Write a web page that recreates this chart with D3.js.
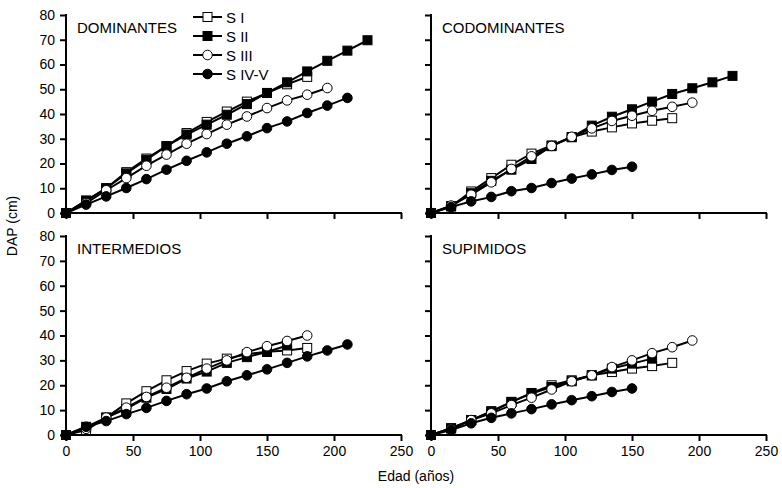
<!DOCTYPE html>
<html>
<head>
<meta charset="utf-8">
<script src="https://cdn.jsdelivr.net/npm/d3@7"></script>
<style>
  body { margin: 0; background: #fff; }
  svg { font-family: "Liberation Sans", Arial, sans-serif; }
</style>
</head>
<body>
<div id="chart"></div>
<script>
// edad (años) every 15 years
const ages = [0, 15, 30, 45, 60, 75, 90, 105, 120, 135, 150, 165, 180, 195, 210, 225];
const seriesNames = ['S I', 'S II', 'S III', 'S IV-V'];
const panelNames = ['DOMINANTES', 'CODOMINANTES', 'INTERMEDIOS', 'SUPIMIDOS'];
const xTicks = [0, 50, 100, 150, 200, 250];
const yTicks = [0, 10, 20, 30, 40, 50, 60, 70, 80];

// DAP (cm) per site class, values start at age 0
const dominantes = [
    [0, 5, 10, 16.5, 22, 27, 32.3, 36.8, 41, 45, 48.5, 52, 55],
    [0, 5, 10, 16, 21.5, 27, 31.7, 35.7, 39.7, 44, 48.5, 52.8, 57.2, 61.5, 65.6, 69.8],
    [0, 4, 9.2, 14.1, 19.1, 23.6, 28, 31.9, 35.7, 39, 42.4, 45.5, 47.8, 50.5],
    [0, 3.4, 6.7, 10.1, 13.7, 17.5, 21.1, 24.5, 28, 31, 34.3, 37, 40.4, 43.4, 46.5]
];
const codominantes = [
    [0, 2.7, 8.7, 14.1, 19.5, 24, 27.3, 30.6, 32.9, 34.6, 36.2, 37.3, 38.3],
    [0, 2.7, 8, 13, 17.5, 21.8, 27, 30.7, 35.3, 38.9, 41.9, 45, 48.1, 50.4, 52.8, 55.4],
    [0, 3, 7.4, 12.4, 17.8, 22.9, 27.1, 30.8, 34.2, 37.2, 39.3, 41.3, 42.9, 44.6],
    [0, 2.4, 4.7, 6.5, 8.8, 10.1, 12.1, 13.9, 15.6, 17.4, 18.7]
];
const intermedios = [
    [0, 2, 7, 12.7, 17.6, 22, 25.7, 28.7, 30.7, 32.5, 33.5, 34, 35],
    [0, 3.3, 7, 10.5, 15, 18.5, 22.7, 25.5, 29, 31.3, 33.4, 36],
    [0, 2.5, 7, 11, 15.3, 19, 23, 26.7, 30, 33.3, 35.7, 37.8, 40],
    [0, 3.3, 5.6, 8.4, 10.9, 13.7, 16.4, 18.7, 21.6, 24, 26.4, 29, 31.6, 34, 36.4]
];
const supimidos = [
    [0, 2.7, 6, 9.6, 13.3, 16.9, 20, 22, 24, 25.3, 26.7, 27.7, 29],
    [0, 2.7, 6, 9.3, 13.3, 16.7, 19.3, 21.6, 24, 26.7, 28.7, 30.7],
    [0, 2.4, 6, 8.7, 12, 15, 18.3, 21.6, 24, 27.3, 30, 32.9, 35.3, 38],
    [0, 2, 4.7, 6.9, 8.7, 10.4, 12.3, 14, 15.6, 17.3, 18.7]
];
const panelData = [dominantes, codominantes, intermedios, supimidos];

// marker style per series: shape + fill
const markerStyle = [
    { shape: 'square', fill: '#fff' },
    { shape: 'square', fill: '#000' },
    { shape: 'circle', fill: '#fff' },
    { shape: 'circle', fill: '#000' }
];

const width = 782, height = 488;
const panels = [
    { x0: 66, x1: 401, y0: 213, y1: 15, yLabels: true, xLabels: false },
    { x0: 431, x1: 766, y0: 213, y1: 15, yLabels: false, xLabels: false },
    { x0: 66, x1: 401, y0: 435, y1: 236, yLabels: true, xLabels: true },
    { x0: 431, x1: 766, y0: 435, y1: 236, yLabels: false, xLabels: true }
];

const svg = d3.select('#chart')
    .append('svg')
    .attr('width', width)
    .attr('height', height);

const drawMarker = (g, style, x, y) => {
    if (style.shape === 'square') {
        g.append('rect')
            .attr('x', x - 4.5).attr('y', y - 4.5)
            .attr('width', 9).attr('height', 9)
            .attr('fill', style.fill)
            .attr('stroke', '#000')
            .attr('stroke-width', 1);
    } else {
        g.append('circle')
            .attr('cx', x).attr('cy', y)
            .attr('r', 4.8)
            .attr('fill', style.fill)
            .attr('stroke', '#000')
            .attr('stroke-width', 1);
    }
};

panels.forEach((p, pi) => {
    const xScale = d3.scaleLinear().domain([0, 250]).range([p.x0, p.x1]);
    const yScale = d3.scaleLinear().domain([0, 80]).range([p.y0, p.y1]);
    const g = svg.append('g').attr('class', 'panel');

    // axes
    const xAxis = d3.axisBottom(xScale).tickValues(xTicks).tickSize(6).tickPadding(5)
        .tickFormat(p.xLabels ? d3.format('d') : '');
    const yAxis = d3.axisLeft(yScale).tickValues(yTicks).tickSize(6).tickPadding(5)
        .tickFormat(p.yLabels ? d3.format('d') : '');

    const gx = g.append('g').attr('transform', `translate(0,${p.y0})`).call(xAxis);
    const gy = g.append('g').attr('transform', `translate(${p.x0},0)`).call(yAxis);
    [gx, gy].forEach(a => {
        a.select('.domain').attr('stroke-width', 2).attr('d', null);
        a.selectAll('.tick line').attr('stroke-width', 2);
        a.selectAll('text').attr('font-size', 14).attr('fill', '#000')
            .attr('font-family', '"Liberation Sans", Arial, sans-serif');
    });
    gx.select('.domain').remove();
    gy.select('.domain').remove();
    g.append('line')
        .attr('x1', p.x0).attr('x2', p.x1 + 1)
        .attr('y1', p.y0).attr('y2', p.y0)
        .attr('stroke', '#000').attr('stroke-width', 2);
    g.append('line')
        .attr('x1', p.x0).attr('x2', p.x0)
        .attr('y1', p.y0 + 1).attr('y2', p.y1 - 1)
        .attr('stroke', '#000').attr('stroke-width', 2);

    // panel title
    g.append('text')
        .attr('x', p.x0 + 11)
        .attr('y', p.y1 + 18)
        .attr('font-size', 15)
        .text(panelNames[pi]);

    // series
    const line = d3.line()
        .x((d, i) => xScale(ages[i]))
        .y(d => yScale(d));
    panelData[pi].forEach((vals, si) => {
        const sg = g.append('g').attr('class', 'series');
        sg.append('path')
            .attr('d', line(vals))
            .attr('fill', 'none')
            .attr('stroke', '#000')
            .attr('stroke-width', 2);
        vals.forEach((v, i) => drawMarker(sg, markerStyle[si], xScale(ages[i]), yScale(v)));
    });
});

// legend inside first panel
const legend = svg.append('g').attr('class', 'legend');
seriesNames.forEach((name, i) => {
    const y = 17 + i * 19;
    legend.append('line')
        .attr('x1', 193).attr('x2', 222)
        .attr('y1', y).attr('y2', y)
        .attr('stroke', '#000').attr('stroke-width', 2);
    drawMarker(legend, markerStyle[i], 207.5, y);
    legend.append('text')
        .attr('x', 226).attr('y', y + 5.5)
        .attr('font-size', 15)
        .text(name);
});

// axis titles
svg.append('text')
    .attr('x', 416).attr('y', 481)
    .attr('text-anchor', 'middle')
    .attr('font-size', 14)
    .text('Edad (años)');
svg.append('text')
    .attr('transform', 'translate(17,226) rotate(-90)')
    .attr('text-anchor', 'middle')
    .attr('font-size', 14)
    .text('DAP (cm)');
</script>
</body>
</html>
